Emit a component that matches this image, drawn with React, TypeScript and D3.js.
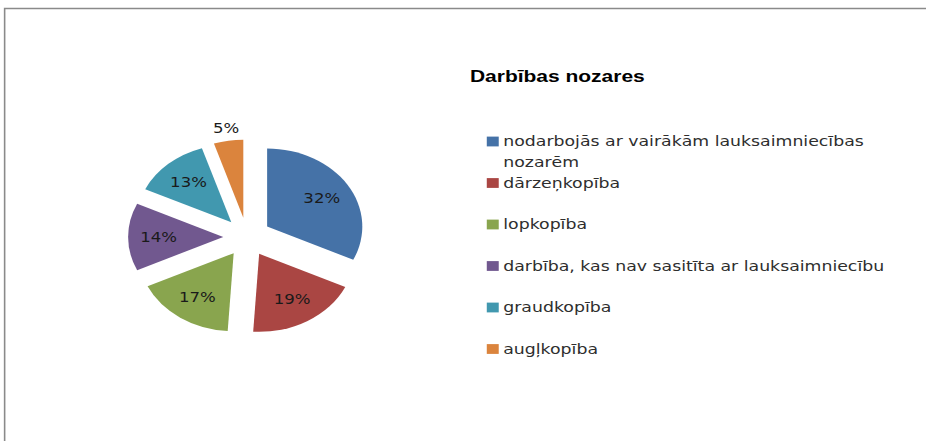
import React from "react";
import * as d3 from "d3";

// values
const categories = [
  "nodarbojās ar vairākām lauksaimniecības nozarēm",
  "dārzeņkopība",
  "lopkopība",
  "darbība, kas nav sasitīta ar lauksaimniecību",
  "graudkopība",
  "augļkopība",
];
const values = [32, 19, 17, 14, 13, 5];
const colors = ["#4572A7", "#AA4643", "#89A54E", "#71588F", "#4198AF", "#DB843D"];
// legend line breaks (the first entry wraps in the original)
const legendLines = [
  ["nodarbojās ar vairākām lauksaimniecības", "nozarēm"],
  ["dārzeņkopība"],
  ["lopkopība"],
  ["darbība, kas nav sasitīta ar lauksaimniecību"],
  ["graudkopība"],
  ["augļkopība"],
];
const title = "Darbības nozares";

const W = 926;
const H = 441;
const SX = 1.22; // the original picture is stretched horizontally

export default function App() {
  const R = 78;
  const cx = 202.5;
  const cy = 237;
  const explode = 19.5;

  const pie = d3.pie<number>().sort(null).value(d => d);
  const arcs = pie(values);
  const arc = d3.arc<d3.PieArcDatum<number>>().innerRadius(0).outerRadius(R);
  const offsetArc = d3.arc<d3.PieArcDatum<number>>().innerRadius(explode).outerRadius(explode);
  const inLabel = d3.arc<d3.PieArcDatum<number>>().innerRadius(R * 0.68 + explode).outerRadius(R * 0.68 + explode);
  const outLabel = d3.arc<d3.PieArcDatum<number>>().innerRadius(R * 1.16 + explode).outerRadius(R * 1.16 + explode);

  const total = d3.sum(values);
  const fmt = (v: number) => `${Math.round((v / total) * 100)}%`;

  const legendX = 399;
  const legendY0 = 141.5;
  const legendStep = 41.5;
  const lineH = 21;
  const sw = 9.8;

  return (
    <svg width={W} height={H} style={{ position: "absolute", left: 0, top: 0, background: "#fff" }}>
      <g transform={`scale(${SX},1)`}>
        {/* chart frame */}
        <path d={`M3.8,${H + 5}V8.5H${W}`} fill="none" stroke="#8a8a8a" strokeWidth={1.3} />

        <g transform={`translate(${cx},${cy})`}>
          {arcs.map((a, i) => {
            const [ox, oy] = offsetArc.centroid(a);
            return (
              <path key={i} d={arc(a) || ""} transform={`translate(${ox},${oy})`} fill={colors[i]} />
            );
          })}
          {arcs.map((a, i) => {
            const small = a.endAngle - a.startAngle < 0.5;
            const [lx, ly] = (small ? outLabel : inLabel).centroid(a);
            return (
              <text key={i} x={lx} y={ly} dy="0.35em" textAnchor="middle"
                fontFamily="'DejaVu Sans', Verdana, sans-serif" fontSize={13.6} fill="#1a1a1a">
                {fmt(values[i])}
              </text>
            );
          })}
        </g>

        <text x={385.2} y={82.3} fontFamily="'Liberation Sans', Arial, sans-serif" fontWeight="bold"
          fontSize={17.2} fill="#000">{title}</text>

        {categories.map((c, i) => {
          const y = legendY0 + i * legendStep;
          return (
            <g key={c}>
              <rect x={legendX} y={y - sw / 2} width={sw} height={sw} fill={colors[i]} />
              {legendLines[i].map((ln, j) => (
                <text key={j} x={legendX + 13.5} y={y + 5 + j * lineH}
                  fontFamily="'DejaVu Sans', Verdana, sans-serif" fontSize={14.2} fill="#2e2e2e">
                  {ln}
                </text>
              ))}
            </g>
          );
        })}
      </g>
    </svg>
  );
}
